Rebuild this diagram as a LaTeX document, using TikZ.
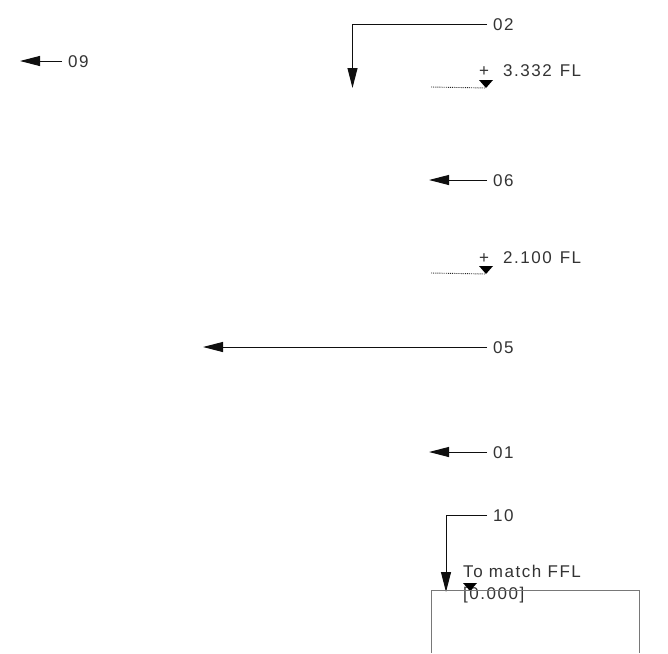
\documentclass[tikz,border=0pt]{standalone}
\usepackage{fontspec}
\setmainfont{Liberation Sans}[LetterSpace=9]
\usetikzlibrary{arrows.meta, positioning}
\definecolor{leader_grey}{RGB}{15, 15, 15}
\definecolor{wall_grey}{RGB}{120, 120, 120}
\tikzset{
    tag_node/.style={
        anchor=west,
        inner xsep=6pt,
        inner ysep=0pt,
        text height=13.5pt,
        text=black!80,
        font=\fontsize{17}{22}\selectfont
    },
    level_node/.style={
        anchor=west,
        inner sep=0pt,
        align=left,
        text=black!80,
        font=\fontsize{17}{22}\selectfont
    },
    leader_arrow/.style={
        -{Triangle[length=20pt,width=10pt]},
        line width=1pt,
        draw=leader_grey
    },
    level_line/.style={
        densely dotted,
        line width=0.9pt,
        draw=black!85
    }
}
\begin{document}
\begin{tikzpicture}[x=1pt,y=-1pt]
\useasboundingbox (0,0) rectangle (668,653);

% Item tags
\node[tag_node] (tag02) at (487,24) {02};
\node[tag_node] (tag09) at (62,61) {09};
\node[tag_node] (tag06) at (487,180) {06};
\node[tag_node] (tag05) at (487,347) {05};
\node[tag_node] (tag01) at (487,452) {01};
\node[tag_node] (tag10) at (487,515) {10};

% Arrow ends
\coordinate (end02) at (352.5,88);
\coordinate (end09) at (20,61);
\coordinate (end06) at (429,180);
\coordinate (end05) at (203,347);
\coordinate (end01) at (429,452);
\coordinate (end10) at (446,592);

% Leaders
\draw[leader_arrow] (tag02) -| (end02);
\draw[leader_arrow] (tag10) -| (end10);
\foreach \item in {09, 06, 05, 01} {
    \draw[leader_arrow] (tag\item) -- (end\item);
}

% Levels
\node[level_node] (level3) at (479,71) {+\hspace{14pt}3.332\hspace{8pt}FL};
\node[level_node] (level2) at (479,258) {+\hspace{14pt}2.100\hspace{8pt}FL};
\node[level_node] (level0) at (463,584.5) {To match FFL\\{[}0.000{]}};

\coordinate (mark3) at (486,88);
\coordinate (mark2) at (486,274);
\coordinate (mark0) at (470,591);

\draw[level_line] (431,87) -- (mark3);
\draw[level_line] (431,273) -- (mark2);
\foreach \mark in {mark3, mark2, mark0} {
    \fill[black] (\mark) -- ++(-7,-8) -- ++(14,0) -- cycle;
}

% Wall outline
\draw[wall_grey, line width=0.9pt] (431,652.5) -- (431,590) -- (639,590) -- (639,652.5);

\end{tikzpicture}
\end{document}
